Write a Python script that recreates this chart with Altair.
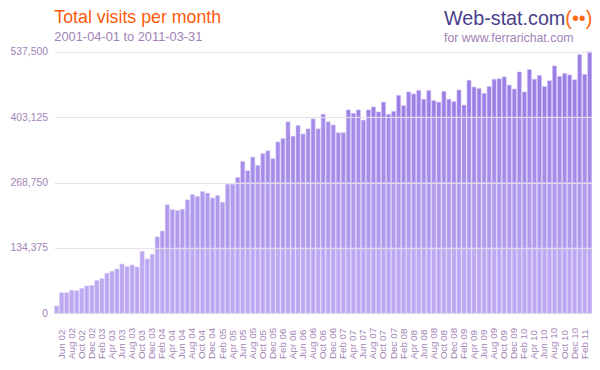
import altair as alt
import pandas as pd

# Months shown: May 2002 .. Mar 2011 (107 bars)
months = list(pd.date_range("2002-05-01", periods=107, freq="MS").strftime("%b %y"))

visits = [
    14800, 42000, 42000, 47000, 46000, 50700, 56000, 57000, 67000, 71000,
    82000, 86000, 91000, 101000, 96000, 99000, 95000, 127000, 111500, 121000,
    157000, 169000, 223000, 213000, 211000, 213600, 233000, 244000, 240000, 250000,
    247000, 237000, 242000, 228000, 265000, 265000,
    279000, 312000, 293000, 321000, 304000, 328000, 334000, 318000, 352000, 359000,
    393500, 364000, 386000, 368500, 379000, 399600, 379000, 409000, 393500, 387000,
    371000, 371000, 418000, 411000,
    418000, 397000, 418000, 424000, 414000, 434000, 409000, 415000, 448000, 427000,
    455000, 451000, 458000, 440000, 458000, 437000, 434000, 456000, 440000, 435000,
    459000, 428000, 479000, 465000,
    462000, 452000, 466000, 481000, 482000, 486000, 469000, 461000, 496000, 455000,
    501000, 481000, 489000, 466000, 478000, 508500, 487000, 493000, 490000, 480000,
    532000, 491000, 537500,
]

y_ticks = [0, 134375, 268750, 403125, 537500]
band_colors = ["#bca8f0", "#b09aec", "#a58ce9", "#9b7fe5"]

title_text = "Total visits per month"
subtitle_text = "2001-04-01 to 2011-03-31"
logo_text = "Web-stat.com"
smiley_text = "(\u2022\u2022)"
site_text = "for www.ferrarichat.com"

MAUVE = "#a283b6"
FONT = "Liberation Sans"

rows = []
for m, v in zip(months, visits):
    for k in range(4):
        lo = y_ticks[k]
        hi = y_ticks[k + 1] if k < 3 else max(v, y_ticks[4])
        if v > lo:
            rows.append({"month": m, "lo": lo, "hi": min(v, hi), "band": k})
df = pd.DataFrame(rows)

bars = alt.Chart(df).mark_bar(stroke="#cdbdf5", strokeWidth=0.6).encode(
    x=alt.X(
        "month:N",
        sort=months,
        scale=alt.Scale(paddingInner=0.2, paddingOuter=0.05),
        axis=alt.Axis(
            values=months[1::2],
            labelAngle=270,
            labelAlign="left",
            labelBaseline="middle",
            labelPadding=46,
            labelFontSize=10,
            labelColor=MAUVE,
            labelFont=FONT,
            labelOverlap=False,
            ticks=False,
            domain=False,
            grid=False,
            title=None,
        ),
    ),
    y=alt.Y(
        "lo:Q",
        scale=alt.Scale(domain=[0, 537500], nice=False),
        axis=alt.Axis(
            values=y_ticks,
            format=",d",
            grid=True,
            gridColor="#e3dfe8",
            gridWidth=1,
            ticks=False,
            domain=False,
            labelPadding=7,
            labelFontSize=10.5,
            labelColor=MAUVE,
            labelFont=FONT,
            title=None,
            zindex=1,
        ),
    ),
    y2="hi:Q",
    color=alt.Color(
        "band:O",
        scale=alt.Scale(domain=[0, 1, 2, 3], range=band_colors),
        legend=None,
    ),
)


def txt(text, x, y, size, color):
    return alt.Chart(pd.DataFrame({"t": [text]})).mark_text(
        align="left", baseline="alphabetic", fontSize=size, color=color, font=FONT
    ).encode(x=alt.value(x), y=alt.value(y), text="t:N")


layers = alt.layer(
    bars,
    txt(title_text, 0, -29, 18, "#ff5a0a"),
    txt(subtitle_text, 0, -11, 13, MAUVE),
    txt(logo_text, 395, -27, 20, "#4b3d8c"),
    txt(smiley_text, 518, -27, 20, "#ff6a10"),
    txt(site_text, 395, -10, 12.5, MAUVE),
).properties(
    width=545,
    height=265,
    autosize=alt.AutoSizeParams(type="none"),
    padding={"left": 47, "top": 42, "right": 0, "bottom": 47},
    background="#ffffff",
).configure_view(stroke=None)

layers.save("out.html", embed_options={"renderer": "svg", "actions": False})
